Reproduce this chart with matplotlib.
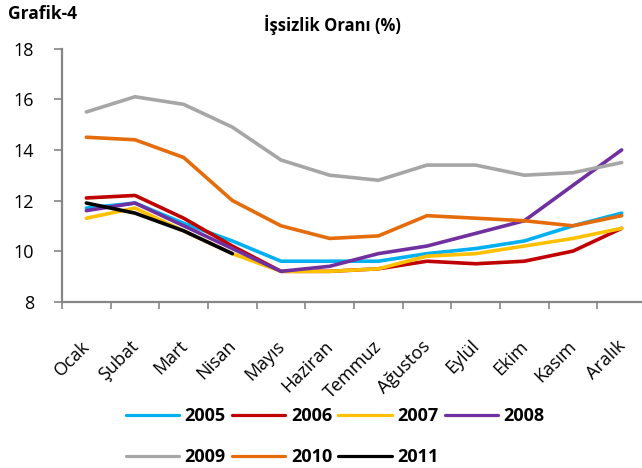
import matplotlib
matplotlib.use("Agg")
import matplotlib.pyplot as plt
import matplotlib.transforms as mtransforms

plt.rcParams['font.family'] = ['Open Sans', 'DejaVu Sans']

months = ['Ocak', 'Şubat', 'Mart', 'Nisan', 'Mayıs', 'Haziran',
          'Temmuz', 'Ağustos', 'Eylül', 'Ekim', 'Kasım', 'Aralık']

y2005 = [11.7, 11.9, 11.1, 10.4, 9.6, 9.6, 9.6, 9.9, 10.1, 10.4, 11.0, 11.5]
y2006 = [12.1, 12.2, 11.3, 10.2, 9.2, 9.2, 9.3, 9.6, 9.5, 9.6, 10.0, 10.9]
y2007 = [11.3, 11.7, 10.8, 9.9, 9.2, 9.2, 9.3, 9.8, 9.9, 10.2, 10.5, 10.9]
y2008 = [11.6, 11.9, 11.0, 10.1, 9.2, 9.4, 9.9, 10.2, 10.7, 11.2, 12.6, 14.0]
y2009 = [15.5, 16.1, 15.8, 14.9, 13.6, 13.0, 12.8, 13.4, 13.4, 13.0, 13.1, 13.5]
y2010 = [14.5, 14.4, 13.7, 12.0, 11.0, 10.5, 10.6, 11.4, 11.3, 11.2, 11.0, 11.4]
y2011 = [11.9, 11.5, 10.8, 9.9]

series = [
    ('2005', y2005, '#00B0F0'),
    ('2006', y2006, '#C00000'),
    ('2007', y2007, '#FFC000'),
    ('2008', y2008, '#7030A0'),
    ('2009', y2009, '#A6A6A6'),
    ('2010', y2010, '#E46C0A'),
    ('2011', y2011, '#000000'),
]

fig = plt.figure(figsize=(6.42, 4.68), dpi=100)
ax = fig.add_axes([62/642, (468-301.7)/468, 584/642, 253/468])

lines = {}
for name, vals, col in series:
    ln, = ax.plot(range(len(vals)), vals, color=col, lw=2.6,
                  solid_capstyle='round', solid_joinstyle='round', label=name)
    lines[name] = ln

ax.set_xlim(-0.5, 11.5)
ax.set_ylim(8, 18)
ax.set_yticks([8, 10, 12, 14, 16, 18])

ax.set_xticks(range(12))
ax.set_xticklabels(months, rotation=45, ha='right', va='center',
                   rotation_mode='anchor', fontsize=13)
ax.set_xticks([i - 0.5 for i in range(13)], minor=True)
ax.tick_params(axis='x', which='major', length=0, pad=30)
ax.tick_params(axis='x', which='minor', length=5, width=1.2, color='#868686')
ax.tick_params(axis='y', length=6, width=1.2, color='#868686', pad=14,
               labelsize=13)
# shift the month labels a little to the right, like excel does
offset = mtransforms.ScaledTranslation(1/100, 0, fig.dpi_scale_trans)
for lab in ax.get_xticklabels():
    lab.set_transform(lab.get_transform() + offset)

for s in ['top', 'right']:
    ax.spines[s].set_visible(False)
for s in ['left', 'bottom']:
    ax.spines[s].set_color('#868686')
    ax.spines[s].set_linewidth(1.6)

fig.text(8/642, 1 - 14/468, 'Grafik-4', fontsize=12.5, fontweight='bold',
         ha='left', va='center')
fig.text(332/642, 1 - 25/468, 'İşsizlik Oranı (%)', fontsize=12,
         fontweight='bold', ha='center', va='center')

# legend filled row by row (matplotlib fills columns first)
order = ['2005', '2009', '2006', '2010', '2007', '2011', '2008']
leg = fig.legend([lines[k] for k in order], order, ncol=4,
                 loc='upper left', bbox_to_anchor=(117/642, 1 - 398/468),
                 frameon=False, borderpad=0, handlelength=2.95,
                 handletextpad=0.3, columnspacing=0.35, labelspacing=1.3,
                 prop={'size': 13, 'weight': 'bold'})
for h in leg.get_lines():
    h.set_linewidth(2.3)

fig.savefig('out.png', dpi=100)
